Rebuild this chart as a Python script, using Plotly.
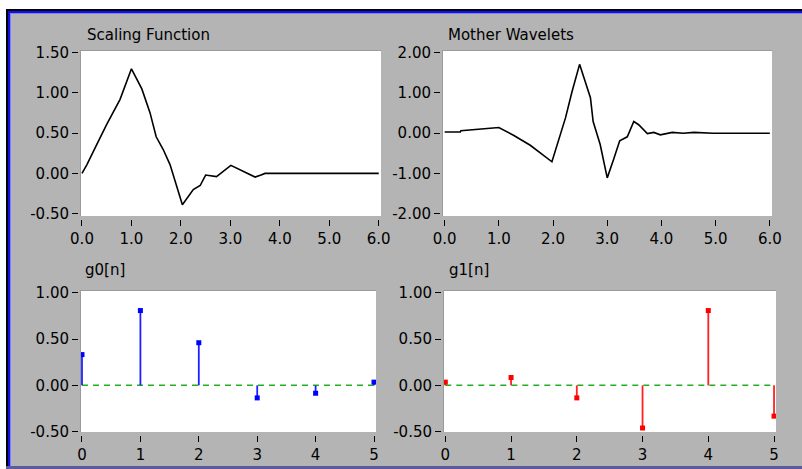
import plotly.graph_objects as go

W, H = 802, 469

# ---------------- data ----------------
scale_x = [0, 0.1, 0.3, 0.5, 0.77, 1.0, 1.21, 1.375, 1.5, 1.64, 1.78, 2.03, 2.25, 2.39, 2.5, 2.72,
           3.01, 3.26, 3.5, 3.62, 3.7, 6.0]
scale_y = [0, 0.11, 0.36, 0.61, 0.92, 1.30, 1.05, 0.755, 0.455, 0.30, 0.11, -0.39, -0.20, -0.15,
           -0.02, -0.04, 0.10, 0.03, -0.045, -0.02, 0.0, 0.0]

wave_x = [0, 0.29, 0.30, 0.6, 0.84, 1.0, 1.27, 1.58, 1.98, 2.23, 2.35, 2.49, 2.69, 2.74, 2.87, 3.0,
          3.12, 3.23, 3.37, 3.49, 3.58, 3.74, 3.86, 3.98, 4.2, 4.4, 4.6, 4.8, 4.95, 6.0]
wave_y = [0.03, 0.03, 0.06, 0.09, 0.13, 0.14, -0.05, -0.30, -0.71, 0.38, 1.03, 1.71, 0.88, 0.29,
          -0.28, -1.11, -0.64, -0.19, -0.09, 0.29, 0.21, -0.01, 0.02, -0.04, 0.02, 0.0, 0.02, 0.01,
          0.0, 0.0]

n_idx = [0, 1, 2, 3, 4, 5]
g0 = [0.332, 0.807, 0.460, -0.135, -0.085, 0.035]
g1 = [0.035, 0.085, -0.135, -0.460, 0.807, -0.332]

top_x_ticks = [0, 1, 2, 3, 4, 5, 6]
top_x_labels = ["0.0", "1.0", "2.0", "3.0", "4.0", "5.0", "6.0"]
scale_y_ticks = [1.5, 1.0, 0.5, 0.0, -0.5]
scale_y_labels = ["1.50", "1.00", "0.50", "0.00", "-0.50"]
wave_y_ticks = [2, 1, 0, -1, -2]
wave_y_labels = ["2.00", "1.00", "0.00", "-1.00", "-2.00"]
g_y_ticks = [1.0, 0.5, 0.0, -0.5]
g_y_labels = ["1.00", "0.50", "0.00", "-0.50"]
n_labels = ["0", "1", "2", "3", "4", "5"]

titles = ["Scaling Function", "Mother Wavelets", "g0[n]", "g1[n]"]

# ---------------- helpers ----------------
def px(x):
    return x / W

def py(y):
    return 1 - y / H

def stems(xs, ys):
    sx, sy = [], []
    for a, b in zip(xs, ys):
        sx += [a, a, None]
        sy += [0, b, None]
    return sx, sy

FONT = dict(family="DejaVu Sans", size=15, color="black")
GRAY = "#b4b4b4"

fig = go.Figure()

fig.add_trace(go.Scatter(x=scale_x, y=scale_y, mode="lines", line=dict(color="black", width=1.6),
                         xaxis="x", yaxis="y", showlegend=False))
fig.add_trace(go.Scatter(x=wave_x, y=wave_y, mode="lines", line=dict(color="black", width=1.6),
                         xaxis="x2", yaxis="y2", showlegend=False))

fig.add_trace(go.Scatter(x=[n_idx[0], n_idx[-1]], y=[0, 0], mode="lines",
                         line=dict(color="#22b022", width=1.5, dash="6px,5px"),
                         xaxis="x3", yaxis="y3", showlegend=False))
sx, sy = stems(n_idx, g0)
fig.add_trace(go.Scatter(x=sx, y=sy, mode="lines", line=dict(color="#2020ff", width=1.8),
                         xaxis="x3", yaxis="y3", showlegend=False))
fig.add_trace(go.Scatter(x=n_idx, y=g0, mode="markers",
                         marker=dict(symbol="square", size=5, color="#0000ff"),
                         xaxis="x3", yaxis="y3", showlegend=False))

fig.add_trace(go.Scatter(x=[n_idx[0], n_idx[-1]], y=[0, 0], mode="lines",
                         line=dict(color="#22b022", width=1.5, dash="6px,5px"),
                         xaxis="x4", yaxis="y4", showlegend=False))
sx, sy = stems(n_idx, g1)
fig.add_trace(go.Scatter(x=sx, y=sy, mode="lines", line=dict(color="#ff2020", width=1.8),
                         xaxis="x4", yaxis="y4", showlegend=False))
fig.add_trace(go.Scatter(x=n_idx, y=g1, mode="markers",
                         marker=dict(symbol="square", size=5, color="#ff0000"),
                         xaxis="x4", yaxis="y4", showlegend=False))

# plot boxes in pixel coords: (left, right, top, bottom)
boxes = {
    1: (81, 381, 51, 216),
    2: (443, 772, 51, 216),
    3: (81, 376, 291, 432),
    4: (444, 776, 291, 432),
}

def xax(box, rng, tv, tt):
    l, r, t, b = box
    return dict(domain=[px(l), px(r)], range=rng, tickvals=tv, ticktext=tt,
                showgrid=False, zeroline=False, showline=False, automargin=False,
                ticks="outside", ticklen=6, tickwidth=1, tickcolor="black",
                anchor="free", position=py(b + 3), tickfont=FONT, fixedrange=True)

def yax(box, rng, tv, tt):
    l, r, t, b = box
    return dict(domain=[py(b), py(t)], range=rng, tickvals=tv, ticktext=tt,
                showgrid=False, zeroline=False, showline=False, automargin=False,
                ticks="outside", ticklen=6, tickwidth=1, tickcolor="black",
                anchor="free", position=px(l - 3), tickfont=FONT, fixedrange=True)

layout = dict(
    width=W, height=H, margin=dict(l=0, r=0, t=0, b=0, pad=0, autoexpand=False), autosize=False,
    paper_bgcolor=GRAY, plot_bgcolor="white", font=FONT, showlegend=False,
    xaxis=xax(boxes[1], [-0.02, 6.046], top_x_ticks, top_x_labels),
    yaxis=yax(boxes[1], [-0.529, 1.521], scale_y_ticks, scale_y_labels),
    xaxis2=xax(boxes[2], [-0.03, 6.04], top_x_ticks, top_x_labels),
    yaxis2=yax(boxes[2], [-2.057, 2.042], wave_y_ticks, wave_y_labels),
    xaxis3=xax(boxes[3], [-0.017, 5.034], n_idx, n_labels),
    yaxis3=yax(boxes[3], [-0.503, 1.018], g_y_ticks, g_y_labels),
    xaxis4=xax(boxes[4], [-0.02, 5.03], n_idx, n_labels),
    yaxis4=yax(boxes[4], [-0.503, 1.018], g_y_ticks, g_y_labels),
)
fig.update_layout(**layout)

shapes = []
shapes.append(dict(type="rect", xref="paper", yref="paper", x0=0, x1=1, y0=py(9), y1=1,
                   fillcolor="white", line_width=0, layer="below"))
shapes.append(dict(type="rect", xref="paper", yref="paper", x0=0, x1=px(6), y0=0, y1=1,
                   fillcolor="white", line_width=0, layer="below"))
for (a, b, c) in [(9, 11, "#000000"), (11, 13, "#1010e0"), (13, 14, "#8080ff")]:
    shapes.append(dict(type="rect", xref="paper", yref="paper", x0=px(6), x1=1, y0=py(b), y1=py(a),
                       fillcolor=c, line_width=0, layer="below"))
for (a, b, c) in [(6, 8, "#000000"), (8, 10, "#1010e0"), (10, 11, "#8080ff")]:
    shapes.append(dict(type="rect", xref="paper", yref="paper", x0=px(a), x1=px(b), y0=0, y1=py(a + 3),
                       fillcolor=c, line_width=0, layer="below"))
shapes.append(dict(type="rect", xref="paper", yref="paper", x0=px(6), x1=1, y0=py(469), y1=py(466),
                   fillcolor="#5c5c9c", line_width=0, layer="below"))
for k, (l, r, t, b) in boxes.items():
    shapes.append(dict(type="line", xref="paper", yref="paper", x0=px(l - 0.5), x1=px(r), y0=py(t - 0.5), y1=py(t - 0.5),
                       line=dict(color="#9a9a9a", width=1), layer="above"))
    shapes.append(dict(type="line", xref="paper", yref="paper", x0=px(l - 0.5), x1=px(l - 0.5), y0=py(b), y1=py(t - 0.5),
                       line=dict(color="#9a9a9a", width=1), layer="above"))
fig.update_layout(shapes=shapes)

title_pos = [(85, 35), (446, 35), (83, 270), (447, 270)]
fig.update_layout(annotations=[
    dict(text=t, x=px(x), y=py(y), xref="paper", yref="paper", xanchor="left", yanchor="middle",
         showarrow=False, font=FONT)
    for t, (x, y) in zip(titles, title_pos)
])

fig.write_html("out.html", config={"responsive": False, "displayModeBar": False},
               post_script="document.body.style.margin='0px';document.body.style.overflow='hidden';")
